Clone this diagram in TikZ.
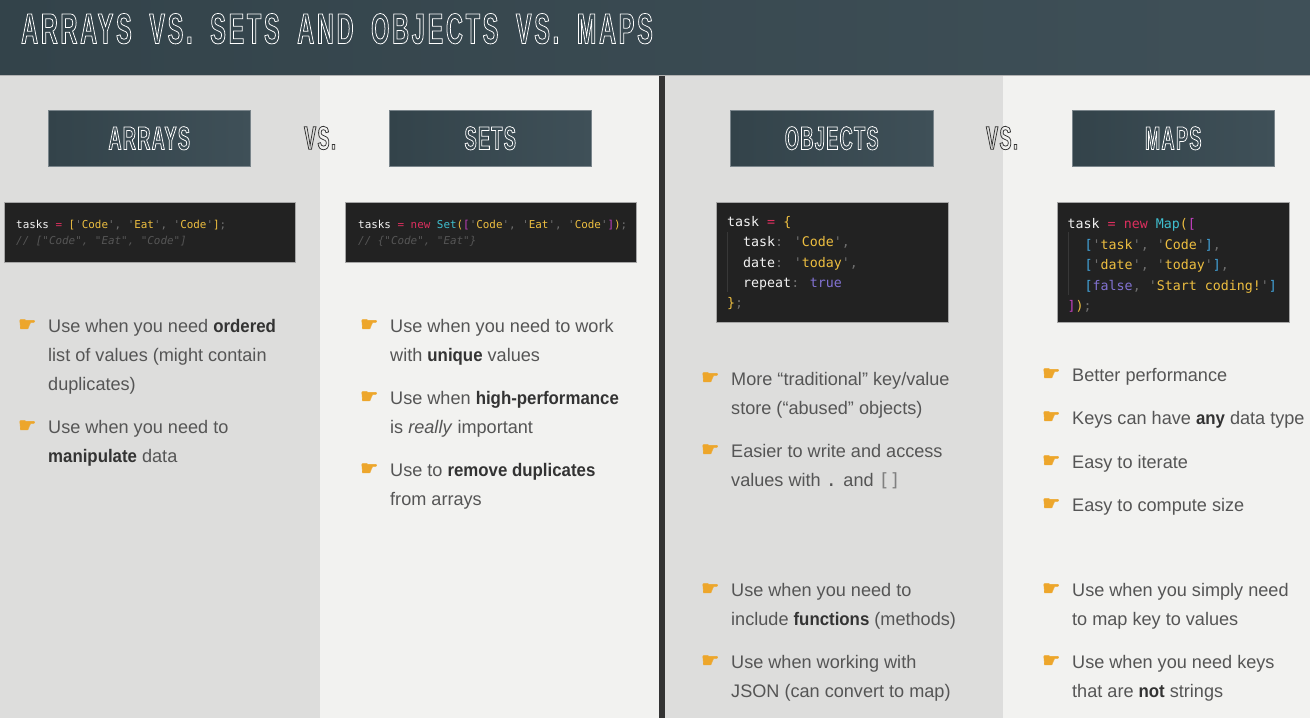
\documentclass[tikz,border=0pt]{standalone}
\usepackage{fontspec}
\setmainfont[FakeStretch=0.995,BoldFeatures={FakeStretch=0.925}]{Liberation Sans}
\newfontfamily\codefont{DejaVu Sans Mono}
\newfontfamily\handfont{DejaVu Sans}
\newfontfamily\dispfont[FakeStretch=0.545,LetterSpace=6.4,WordSpace=1.9]{Liberation Sans Bold}
\newfontfamily\hdfont[FakeStretch=0.55,LetterSpace=4]{Liberation Sans Bold}
\definecolor{pl}{HTML}{DDDDDC}
\definecolor{pr}{HTML}{F2F2F0}
\definecolor{dv}{HTML}{333333}
\definecolor{gl}{HTML}{33434A}
\definecolor{gr}{HTML}{3F5058}
\definecolor{cbg}{HTML}{222222}
\definecolor{txt}{HTML}{555555}
\definecolor{txb}{HTML}{333333}
\definecolor{hnd}{HTML}{EDA62B}
\definecolor{cw}{HTML}{F2F2F2}
\definecolor{cp}{HTML}{DC2F5E}
\definecolor{cy}{HTML}{EDBE40}
\definecolor{cg}{HTML}{6F6F6F}
\definecolor{cc}{HTML}{555555}
\definecolor{ct}{HTML}{3FBFCF}
\definecolor{cm}{HTML}{C23FBF}
\definecolor{cv}{HTML}{8272D2}
\definecolor{cb}{HTML}{42A3DA}
\newcommand\outl[1]{\special{pdf:code 1 Tr 0.75 w}#1\special{pdf:code 0 Tr 1 w}}
\newcommand\solid[1]{\special{pdf:code 2 Tr 0.6 w}#1\special{pdf:code 0 Tr 1 w}}
\newcommand\cP[1]{\textcolor{cp}{#1}}
\newcommand\cY[1]{\textcolor{cy}{#1}}
\newcommand\cG[1]{\textcolor{cg}{#1}}
\newcommand\cT[1]{\textcolor{ct}{#1}}
\newcommand\cM[1]{\textcolor{cm}{#1}}
\newcommand\cV[1]{\textcolor{cv}{#1}}
\newcommand\cB[1]{\textcolor{cb}{#1}}
\newcommand\cQ[1]{\cG{'}\cY{#1}\cG{'}}
\newcommand\stg[1]{\textcolor{txb}{\textbf{#1}}}
\tikzset{
 x=1pt,y=-1pt,
 panel/.style={anchor=north west,inner sep=0pt,outer sep=0pt},
 heading/.style={panel,minimum width=202.5pt,minimum height=56.5pt,left color=gl,right color=gr,draw=gr!70!white,line width=0.3pt},
 headlabel/.style={text=white,font=\fontsize{33}{33}\hdfont},
 vslabel/.style={text=dv,font=\fontsize{33}{33}\hdfont},
 codebox/.style={panel,fill=cbg,draw=gray!70,line width=0.4pt},
 codesmall/.style={anchor=north west,inner sep=0pt,align=left,text=cw,font=\fontsize{10.9}{16}\codefont},
 codebig/.style={anchor=north west,inner sep=0pt,align=left,text=cw,font=\fontsize{13.3}{20.4}\codefont},
 guide/.style={draw=white!10!cbg,line width=0.5pt},
 bullet/.style={anchor=north west,inner sep=0pt,align=left,text=txt,font=\fontsize{18.2}{29}\selectfont},
 hand/.style={anchor=base west,inner sep=0pt,text=hnd,font=\fontsize{20}{20}\handfont},
}
\newcommand\bul[5]{%
 \node[hand] (h#1) at (#2-30,#4-1) {\solid{\symbol{"261B}}};
 \node[bullet] (t#1) at (#2,#4-19.8) {\strut #5};
}
\begin{document}
\begin{tikzpicture}
\useasboundingbox (0,0) rectangle (1310,718);
\node[panel,fill=pl,minimum width=320pt,minimum height=718pt] (p1) at (0,0) {};
\node[panel,fill=pr,minimum width=339pt,minimum height=718pt] (p2) at (320,0) {};
\node[panel,fill=dv,minimum width=6pt,minimum height=718pt] (dv) at (659,0) {};
\node[panel,fill=pl,minimum width=338pt,minimum height=718pt] (p3) at (665,0) {};
\node[panel,fill=pr,minimum width=307pt,minimum height=718pt] (p4) at (1003,0) {};
\node[panel,left color=gl,right color=gr,minimum width=1310pt,minimum height=75pt] (hdr) at (0,0) {};
\draw[gray!60,line width=0.8pt] (hdr.south west) -- (hdr.south east);
\node[anchor=base west,inner sep=0pt,text=white,font=\fontsize{43}{43}\dispfont] (title) at (21,43.5) {\outl{ARRAYS VS. SETS AND OBJECTS VS. MAPS}};
\node[heading] (b1) at (48,110) {};
\node[heading] (b2) at (389,110) {};
\node[heading] (b3) at (730.5,110) {};
\node[heading] (b4) at (1072,110) {};
\node[headlabel] at (b1) {\outl{ARRAYS}};
\node[headlabel] at (b2) {\outl{SETS}};
\node[headlabel] at (b3) {\outl{OBJECTS}};
\node[headlabel] at (b4) {\outl{MAPS}};
\node[vslabel] (v1) at (320,138) {\outl{VS.}};
\node[vslabel] (v2) at (1002,138) {\outl{VS.}};
% code
\node[codebox,minimum width=291pt,minimum height=60pt] (c1) at (4,202.5) {};
\node[codebox,minimum width=291pt,minimum height=60pt] (c2) at (345.5,202.5) {};
\node[codebox,minimum width=232pt,minimum height=120pt] (c3) at (716,202.5) {};
\node[codebox,minimum width=232pt,minimum height=120pt] (c4) at (1057.5,202.5) {};
\node[codesmall] (k1) at (16,220) {tasks \cP{=} \cY{[}\cQ{Code}\cG{,} \cQ{Eat}\cG{,} \cQ{Code}\cY{]}\cG{;}\\\textcolor{cc}{\itshape // ["Code", "Eat", "Code"]}};
\node[codesmall] (k2) at (358,220) {tasks \cP{=} \cP{new} \cT{Set}\cY{(}\cM{[}\cQ{Code}\cG{,} \cQ{Eat}\cG{,} \cQ{Code}\cM{]}\cY{)}\cG{;}\\\textcolor{cc}{\itshape // \{"Code", "Eat"\}}};
\draw[guide] (727,232) -- (727,292);
\node[codebig] (k3) at (727,216) {task \cP{=} \cY{\{}\\\hspace*{16pt}task\cG{:} \cQ{Code}\cG{,}\\\hspace*{16pt}date\cG{:} \cQ{today}\cG{,}\\\hspace*{16pt}repeat\cG{:} \cV{true}\\\cY{\}}\cG{;}};
\draw[guide] (1068,232) -- (1068,295);
\node[codebig] (k4) at (1067.5,218.5) {task \cP{=} \cP{new} \cT{Map}\cY{(}\cM{[}\\\hspace*{17pt}\cB{[}\cQ{task}\cG{,} \cQ{Code}\cB{]}\cG{,}\\\hspace*{17pt}\cB{[}\cQ{date}\cG{,} \cQ{today}\cB{]}\cG{,}\\\hspace*{17pt}\cB{[}\cV{false}\cG{,} \cQ{Start coding!}\cB{]}\\\cM{]}\cY{)}\cG{;}};
% bullets
\bul{a}{48}{}{332}{Use when you need \stg{ordered}\\list of values (might contain\\duplicates)}
\bul{b}{48}{}{433}{Use when you need to\\\stg{manipulate} data}
\bul{c}{390}{}{332}{Use when you need to work\\with \stg{unique} values}
\bul{d}{390}{}{404}{Use when \stg{high-performance}\\is \textit{really} important}
\bul{e}{390}{}{476}{Use to \stg{remove duplicates}\\from arrays}
\bul{f}{731}{}{385}{More “traditional” key/value\\store (“abused” objects)}
\bul{g}{731}{}{457}{Easier to write and access\\values with {\codefont .} and {\codefont\textcolor{gray}{[]}}}
\bul{h}{731}{}{596}{Use when you need to\\include \stg{functions} (methods)}
\bul{i}{731}{}{668}{Use when working with\\JSON (can convert to map)}
\bul{j}{1072}{}{381}{Better performance}
\bul{k}{1072}{}{424}{Keys can have \stg{any} data type}
\bul{l}{1072}{}{468}{Easy to iterate}
\bul{m}{1072}{}{511}{Easy to compute size}
\bul{n}{1072}{}{596}{Use when you simply need\\to map key to values}
\bul{o}{1072}{}{668}{Use when you need keys\\that are \stg{not} strings}
\end{tikzpicture}
\end{document}
